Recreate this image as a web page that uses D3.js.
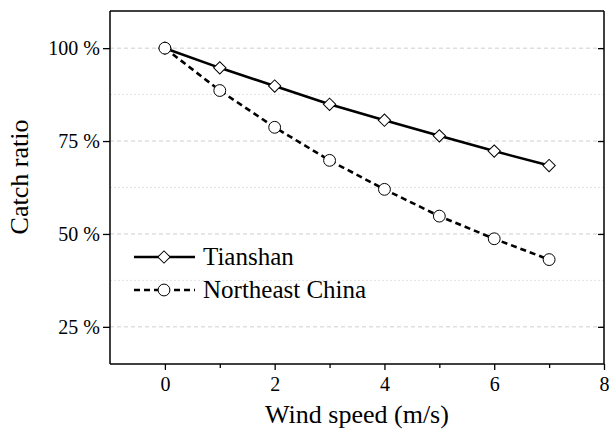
<!DOCTYPE html>
<html>
<head>
<meta charset="utf-8">
<script src="https://cdn.jsdelivr.net/npm/d3@7"></script>
<style>
  body { margin: 0; background: #fff; font-family: 'Liberation Serif'; }
</style>
</head>
<body>
<svg id="chart" width="609" height="429"></svg>
<script>
// data
let windSpeed = [0, 1, 2, 3, 4, 5, 6, 7];
let tianshan = [100, 94.7, 89.8, 84.9, 80.6, 76.4, 72.3, 68.4];
let northeast = [100, 88.6, 78.7, 69.8, 62.0, 54.8, 48.7, 43.1];
let seriesNames = ["Tianshan", "Northeast China"];
let xTicks = [0, 2, 4, 6, 8];
let xMinorTicks = [1, 3, 5, 7];
let yTicks = [25, 50, 75, 100];
let yMinorTicks = [37.5, 62.5, 87.5];

let svg = d3.select("#chart");
let plotL = 110, plotR = 604, plotT = 11, plotB = 364;

let x = d3.scaleLinear().domain([-1, 8]).range([plotL, plotR]);
let y = d3.scaleLinear().domain([15, 110]).range([plotB, plotT]);

// axis titles first
svg.append("text").attr("x", (plotL + plotR) / 2).attr("y", 423)
    .attr("text-anchor", "middle").style("font-size", "26px")
    .style("font-family", "'Liberation Serif'").text("Wind speed (m/s)");
svg.append("text").attr("transform", "translate(28,177) rotate(-90)")
    .attr("text-anchor", "middle").style("font-size", "26px")
    .style("font-family", "'Liberation Serif'").text("Catch ratio");

// grid
svg.append("g").selectAll("line").data(yMinorTicks).enter().append("line")
    .attr("x1", plotL).attr("x2", plotR)
    .attr("y1", d => y(d)).attr("y2", d => y(d))
    .attr("stroke", "#e2e2e2").attr("stroke-dasharray", "2,2");
svg.append("g").selectAll("line").data(yTicks).enter().append("line")
    .attr("x1", plotL).attr("x2", plotR)
    .attr("y1", d => y(d)).attr("y2", d => y(d))
    .attr("stroke", "#cfcfcf").attr("stroke-dasharray", "4,3");

// axes
let fmt = d => d + " %";
let yAxis = svg.append("g").attr("transform", `translate(${plotL},0)`)
    .call(d3.axisLeft(y).tickValues(yTicks).tickFormat(fmt).tickSize(7).tickPadding(3));
let yAxisR = svg.append("g").attr("transform", `translate(${plotR},0)`)
    .call(d3.axisLeft(y).tickValues(yTicks).tickFormat("").tickSize(6));
let xAxis = svg.append("g").attr("transform", `translate(0,${plotB})`)
    .call(d3.axisBottom(x).tickValues(xTicks).tickSize(6).tickPadding(7));
let xMinor = svg.append("g").attr("transform", `translate(0,${plotB})`)
    .call(d3.axisBottom(x).tickValues(xMinorTicks).tickFormat("").tickSize(4));
let xTop = svg.append("g").attr("transform", `translate(0,${plotT})`)
    .call(d3.axisTop(x).tickValues([]).tickSizeOuter(0));

svg.selectAll("g").attr("font-family", null).attr("font-size", null);
svg.selectAll(".domain").attr("stroke", "#000").attr("stroke-width", 1.5);
svg.selectAll(".tick line").attr("stroke", "#000").attr("stroke-width", 1.3);
svg.selectAll(".tick text").style("font-size", "20px").style("font-family", "'Liberation Serif'");
yAxisR.select(".domain").attr("d", `M0,${plotT}V${plotB}`);
yAxis.select(".domain").attr("d", `M0,${plotT}V${plotB}`);
xAxis.select(".domain").attr("d", `M${plotL},0H${plotR}`);
xMinor.select(".domain").remove();
xTop.select(".domain").attr("d", `M${plotL},0H${plotR}`);

// lines
let line = d3.line().x((d, i) => x(windSpeed[i])).y(d => y(d));
svg.append("path").datum(tianshan).attr("d", line)
    .attr("fill", "none").attr("stroke", "#000").attr("stroke-width", 2.6);
svg.append("path").datum(northeast).attr("d", line)
    .attr("fill", "none").attr("stroke", "#000").attr("stroke-width", 2.6)
    .attr("stroke-dasharray", "6,4");

let diamond = d3.symbol().type(d3.symbolSquare).size(76);
let circle = d3.symbol().type(d3.symbolCircle).size(110);

svg.append("g").selectAll("path").data(tianshan).enter().append("path")
    .attr("d", diamond)
    .attr("transform", (d, i) => `translate(${x(windSpeed[i])},${y(d)}) rotate(45)`)
    .attr("fill", "#fff").attr("stroke", "#000").attr("stroke-width", 1);
svg.append("g").selectAll("path").data(northeast).enter().append("path")
    .attr("d", circle)
    .attr("transform", (d, i) => `translate(${x(windSpeed[i])},${y(d)})`)
    .attr("fill", "#fff").attr("stroke", "#000").attr("stroke-width", 1);

// legend
let legend = svg.append("g");
let legY = [257, 290];
legend.append("line").attr("x1", 134).attr("x2", 195).attr("y1", legY[0]).attr("y2", legY[0])
    .attr("stroke", "#000").attr("stroke-width", 2.6);
legend.append("line").attr("x1", 134).attr("x2", 195).attr("y1", legY[1]).attr("y2", legY[1])
    .attr("stroke", "#000").attr("stroke-width", 2.6).attr("stroke-dasharray", "6,4");
legend.append("path").attr("d", diamond)
    .attr("transform", `translate(164,${legY[0]}) rotate(45)`)
    .attr("fill", "#fff").attr("stroke", "#000");
legend.append("path").attr("d", circle)
    .attr("transform", `translate(164,${legY[1]})`)
    .attr("fill", "#fff").attr("stroke", "#000");
legend.selectAll("text").data(seriesNames).enter().append("text")
    .attr("x", 203).attr("y", (d, i) => legY[i] + 8)
    .style("font-size", "25px").style("font-family", "'Liberation Serif'").text(d => d);
</script>
</body>
</html>
